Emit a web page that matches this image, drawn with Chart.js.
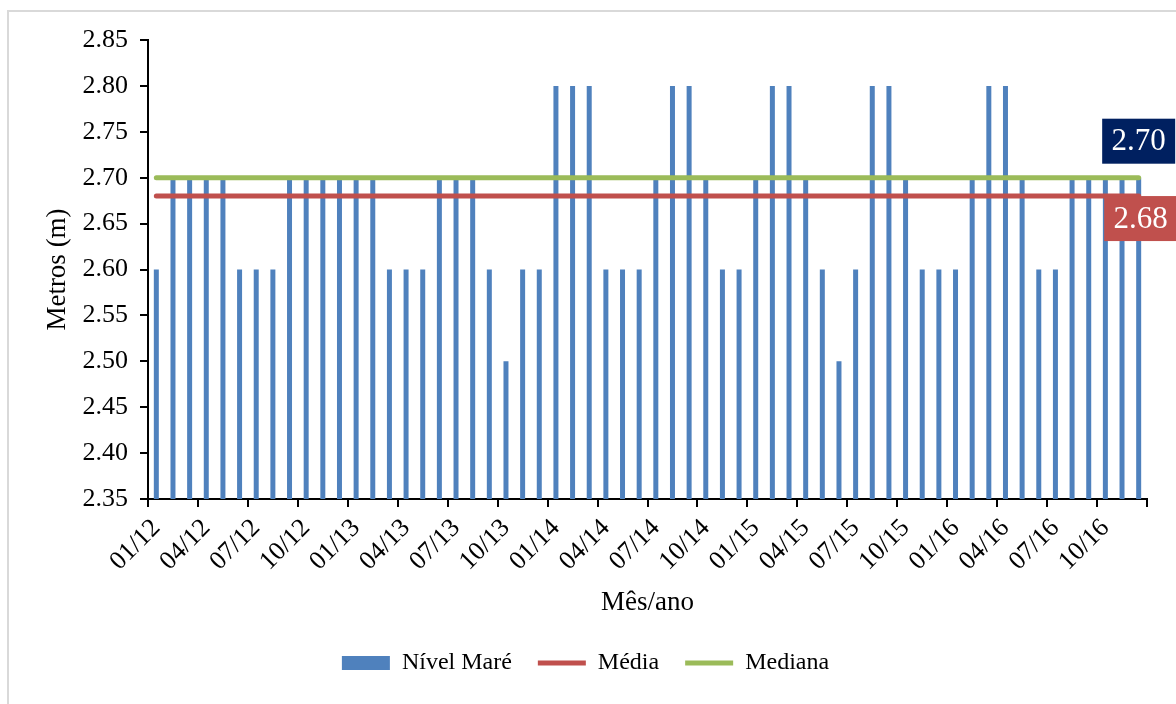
<!DOCTYPE html>
<html>
<head>
<meta charset="utf-8">
<title>Nível de maré</title>
<script src="https://cdn.jsdelivr.net/npm/chart.js@4.4.1/dist/chart.umd.min.js"></script>
<style>
  body { margin: 0; background: #fff; }
  #moldura {
    position: absolute; left: 7px; top: 10px; width: 1180px; height: 700px;
    border-left: 2px solid #d9d9d9; border-top: 2px solid #d9d9d9;
  }
  #grafico { position: absolute; left: 0; top: 0; }
</style>
</head>
<body>
<div id="moldura"></div>
<canvas id="grafico" width="1176" height="704"></canvas>
<script>
// meses (mm/aa)
var meses = [
  '01/12','02/12','03/12','04/12','05/12','06/12','07/12','08/12','09/12','10/12','11/12','12/12',
  '01/13','02/13','03/13','04/13','05/13','06/13','07/13','08/13','09/13','10/13','11/13','12/13',
  '01/14','02/14','03/14','04/14','05/14','06/14','07/14','08/14','09/14','10/14','11/14','12/14',
  '01/15','02/15','03/15','04/15','05/15','06/15','07/15','08/15','09/15','10/15','11/15','12/15',
  '01/16','02/16','03/16','04/16','05/16','06/16','07/16','08/16','09/16','10/16','11/16','12/16'
];

// nível de maré mensal (m)
var nivel = [
  2.60, 2.70, 2.70, 2.70, 2.70, 2.60, 2.60, 2.60, 2.70, 2.70, 2.70, 2.70,
  2.70, 2.70, 2.60, 2.60, 2.60, 2.70, 2.70, 2.70, 2.60, 2.50, 2.60, 2.60,
  2.80, 2.80, 2.80, 2.60, 2.60, 2.60, 2.70, 2.80, 2.80, 2.70, 2.60, 2.60,
  2.70, 2.80, 2.80, 2.70, 2.60, 2.50, 2.60, 2.80, 2.80, 2.70, 2.60, 2.60,
  2.60, 2.70, 2.80, 2.80, 2.70, 2.60, 2.60, 2.70, 2.70, 2.70, 2.70, 2.70
];

var media = 2.68;
var mediana = 2.70;

var serif = '"Liberation Serif", "Times New Roman", serif';
var fonteEixo = { family: serif, size: 26 };
var fonteTitulo = { family: serif, size: 27 };
var fonteLegenda = { family: serif, size: 24 };

// caixa com o valor no fim de cada linha de referência
var rotulos = {
  id: 'rotulos',
  afterDatasetsDraw: function(chart) {
    var ctx = chart.ctx;
    var caixas = [
      { ds: 1, cor: '#C0504D', dy: 0, dx: 2 },
      { ds: 2, cor: '#002060', dy: -59, dx: 0 }
    ];
    ctx.save();
    ctx.font = '31px ' + serif;
    ctx.textAlign = 'center';
    ctx.textBaseline = 'middle';
    caixas.forEach(function(c) {
      var meta = chart.getDatasetMeta(c.ds);
      var ponto = meta.data[meta.data.length - 1];
      var valor = chart.data.datasets[c.ds].data[meta.data.length - 1];
      var w = 73, h = 45;
      var x = ponto.x + c.dx - w / 2;
      var y = ponto.y + c.dy;
      ctx.fillStyle = c.cor;
      ctx.fillRect(x, y, w, h);
      ctx.fillStyle = '#fff';
      ctx.fillText(valor.toFixed(2), x + w / 2, y + h / 2 + 1);
    });
    ctx.restore();
  }
};

new Chart(document.getElementById('grafico'), {
  type: 'bar',
  data: {
    labels: meses,
    datasets: [
      {
        label: 'Nível Maré',
        data: nivel,
        backgroundColor: '#4F81BD',
        borderWidth: 0,
        barPercentage: 0.3,
        categoryPercentage: 1,
        pointStyle: 'rect',
        order: 3
      },
      {
        type: 'line',
        label: 'Média',
        data: meses.map(function() { return media; }),
        borderColor: '#C0504D',
        backgroundColor: '#C0504D',
        borderWidth: 5,
        borderCapStyle: 'round',
        pointRadius: 0,
        pointStyle: 'line',
        order: 2
      },
      {
        type: 'line',
        label: 'Mediana',
        data: meses.map(function() { return mediana; }),
        borderColor: '#9BBB59',
        backgroundColor: '#9BBB59',
        borderWidth: 5,
        borderCapStyle: 'round',
        pointRadius: 0,
        pointStyle: 'line',
        order: 1
      }
    ]
  },
  options: {
    responsive: false,
    animation: false,
    layout: { padding: { left: 24, right: 29, top: 40, bottom: 19 } },
    plugins: {
      tooltip: { enabled: false },
      legend: {
        position: 'bottom',
        labels: {
          font: fonteLegenda,
          color: '#000',
          usePointStyle: true,
          pointStyleWidth: 48,
          boxHeight: 14,
          padding: 26,
          sort: function(a, b) { return a.datasetIndex - b.datasetIndex; }
        }
      }
    },
    scales: {
      x: {
        offset: true,
        grid: {
          offset: true,
          drawOnChartArea: false,
          tickLength: 8,
          lineWidth: 2,
          color: function(c) {
            return (c.type !== 'tick' || c.index % 3 === 0) ? '#000' : 'rgba(0,0,0,0)';
          }
        },
        border: { color: '#000', width: 2 },
        ticks: {
          autoSkip: false,
          minRotation: 45,
          maxRotation: 45,
          font: fonteEixo,
          color: '#000',
          padding: 6,
          callback: function(v, i) { return i % 3 === 0 ? this.getLabelForValue(v) : ''; }
        },
        title: { display: true, text: 'Mês/ano', font: fonteTitulo, color: '#000', padding: { top: 0, bottom: 6 } },
        afterFit: function(s) { s.height = 126; }
      },
      y: {
        min: 2.35,
        max: 2.85,
        grid: { drawOnChartArea: false, tickLength: 8, lineWidth: 2, color: '#000' },
        border: { color: '#000', width: 2 },
        ticks: {
          stepSize: 0.05,
          font: fonteEixo,
          color: '#000',
          padding: 12,
          callback: function(v) { return v.toFixed(2); }
        },
        title: { display: true, text: 'Metros (m)', font: fonteTitulo, color: '#000', padding: { top: 18, bottom: 0 } },
        afterFit: function(s) { s.width = 124; }
      }
    }
  },
  plugins: [rotulos]
});
</script>
</body>
</html>
